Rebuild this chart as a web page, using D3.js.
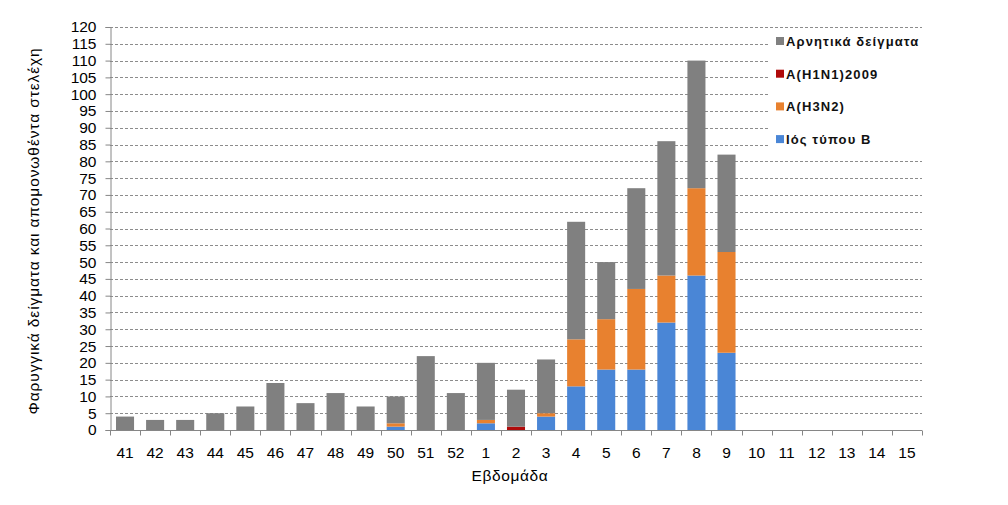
<!DOCTYPE html>
<meta charset="utf-8">
<title>Εβδομάδα</title>
<style>
body { margin: 0; background: #fff; }
text { font-family: Arial, "Liberation Sans", sans-serif; }
.grid line { stroke: #8c8c8c; stroke-dasharray: 3,2; stroke-width: 1; }
</style>
<body>
<svg width="1008" height="505"></svg>
<script src="https://d3js.org/d3.v7.min.js"></script>
<script>

// weeks 41..52 then 1..15
var weeks = ["41","42","43","44","45","46","47","48","49","50","51","52",
             "1","2","3","4","5","6","7","8","9","10","11","12","13","14","15"];

var typeB    = [0,0,0,0,0,0,0,0,0,1,0,0, 2,0,4,13,18,18,32,46,23,0,0,0,0,0,0];
var h3n2     = [0,0,0,0,0,0,0,0,0,1,0,0, 1,0,1,14,15,24,14,26,30,0,0,0,0,0,0];
var h1n1     = [0,0,0,0,0,0,0,0,0,0,0,0, 0,1,0,0,0,0,0,0,0,0,0,0,0,0,0];
var negative = [4,3,3,5,7,14,8,11,7,8,22,11, 17,11,16,35,17,30,40,38,29,0,0,0,0,0,0];

var seriesKeys = ["b", "h3", "h1", "neg"];
var seriesNames = { b: "Ιός τύπου Β", h3: "Α(Η3Ν2)", h1: "Α(Η1Ν1)2009", neg: "Αρνητικά δείγματα" };
var colors = { b: "#4a86d6", h3: "#e8812f", h1: "#b00a0a", neg: "#808080" };
var yTicks = d3.range(0, 121, 5);

var rows = weeks.map(function(w, i) {
  return { week: w, b: typeB[i], h3: h3n2[i], h1: h1n1[i], neg: negative[i] };
});

var svg = d3.select("svg");
var plotL = 110, plotR = 922, plotT = 27, plotB = 430;

var x = d3.scaleBand().domain(weeks).range([plotL, plotR]).paddingInner(0.4).paddingOuter(0.2);
var y = d3.scaleLinear().domain([0, 120]).range([plotB, plotT]);

// grid
svg.append("g").attr("class", "grid")
  .selectAll("line")
  .data(yTicks.filter(function(d) { return d > 0; }))
  .enter().append("line")
  .attr("x1", plotL).attr("x2", plotR)
  .attr("y1", function(d) { return Math.round(y(d)) + 0.5; })
  .attr("y2", function(d) { return Math.round(y(d)) + 0.5; });

// legend background hides the grid behind it
svg.append("rect").attr("x", 770).attr("y", 30).attr("width", 152).attr("height", 122).attr("fill", "#fff");

// bars
var stack = d3.stack().keys(seriesKeys)(rows);
svg.append("g")
  .selectAll("g")
  .data(stack)
  .enter().append("g")
  .attr("fill", function(d) { return colors[d.key]; })
  .selectAll("rect")
  .data(function(d) { return d; })
  .enter().append("rect")
  .attr("x", function(d) { return x(d.data.week); })
  .attr("width", x.bandwidth())
  .attr("y", function(d) { return y(d[1]); })
  .attr("height", function(d) { return y(d[0]) - y(d[1]); });

// y axis
var yAxis = svg.append("g")
  .attr("transform", "translate(" + (plotL + 0.5) + ",0)")
  .call(d3.axisLeft(y).tickValues(yTicks).tickSize(5).tickPadding(9));
yAxis.selectAll("line, path").attr("stroke", "#868686");
yAxis.selectAll("text").attr("font-size", 15.5).attr("fill", "#000")
  .style("font-family", "Arial, 'Liberation Sans', sans-serif");

// x axis with ticks at category boundaries
var xAxisG = svg.append("g").attr("transform", "translate(0," + (plotB + 0.5) + ")");
xAxisG.append("line").attr("x1", plotL).attr("x2", plotR).attr("stroke", "#868686");
var step = (plotR - plotL) / weeks.length;
xAxisG.selectAll(".tk")
  .data(d3.range(weeks.length + 1))
  .enter().append("line")
  .attr("x1", function(i) { return Math.round(plotL + i * step) + 0.5; })
  .attr("x2", function(i) { return Math.round(plotL + i * step) + 0.5; })
  .attr("y1", 0).attr("y2", 5)
  .attr("stroke", "#868686");
xAxisG.selectAll("text.lbl")
  .data(weeks)
  .enter().append("text")
  .attr("class", "lbl")
  .attr("x", function(d) { return x(d) + x.bandwidth() / 2; })
  .attr("y", 27)
  .attr("text-anchor", "middle")
  .attr("font-size", 15.5)
  .text(function(d) { return d; });

// axis titles
svg.append("text")
  .attr("x", 510).attr("y", 481)
  .attr("text-anchor", "middle").attr("font-size", 15.5)
  .attr("letter-spacing", 0.6)
  .text("Εβδομάδα");
svg.append("text")
  .attr("transform", "translate(39,231) rotate(-90)")
  .attr("text-anchor", "middle").attr("font-size", 15.5)
  .attr("letter-spacing", 0.9)
  .text("Φαρυγγικά δείγματα και απομονωθέντα στελέχη");

// legend
var legendKeys = ["neg", "h1", "h3", "b"];
var lg = svg.append("g").selectAll("g")
  .data(legendKeys)
  .enter().append("g")
  .attr("transform", function(d, i) { return "translate(776," + (41 + i * 32.7) + ")"; });
lg.append("rect").attr("x", 0).attr("y", -4).attr("width", 8).attr("height", 8)
  .attr("fill", function(d) { return colors[d]; });
lg.append("text").attr("x", 10).attr("y", 5)
  .attr("font-size", 13).attr("font-weight", "bold").attr("fill", "#111")
  .attr("letter-spacing", 1.1)
  .text(function(d) { return seriesNames[d]; });

</script>
</body>
